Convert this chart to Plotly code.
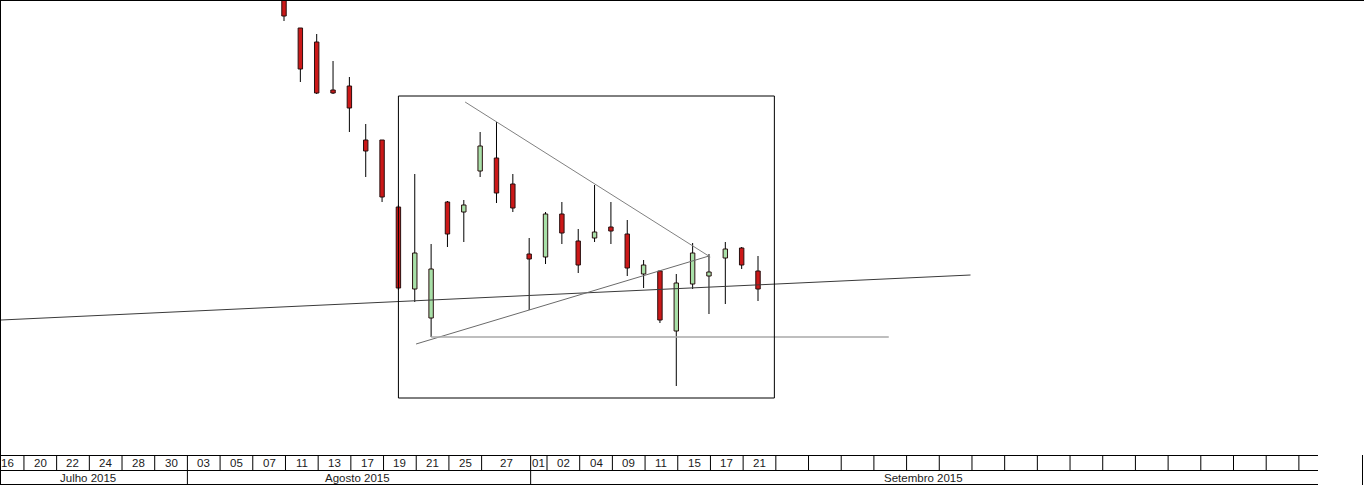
import plotly.graph_objects as go
import pandas as pd

# ---------------- data ----------------
holidays = ["2015-09-07"]
calendar = pd.bdate_range("2015-07-16", "2015-11-30", freq="C", holidays=holidays)

dates = ["2015-08-11", "2015-08-12", "2015-08-13", "2015-08-14", "2015-08-17",
         "2015-08-18", "2015-08-19", "2015-08-20", "2015-08-21", "2015-08-24",
         "2015-08-25", "2015-08-26", "2015-08-27", "2015-08-28", "2015-08-31",
         "2015-09-01", "2015-09-02", "2015-09-03", "2015-09-04", "2015-09-08",
         "2015-09-09", "2015-09-10", "2015-09-11", "2015-09-14", "2015-09-15",
         "2015-09-16", "2015-09-17", "2015-09-18", "2015-09-21", "2015-09-22"]
open_ = [15.08, 14.72, 14.58, 14.10, 14.14, 13.60, 13.60, 12.93, 12.11, 11.82,
         12.98, 12.88, 13.29, 13.42, 13.16, 12.46, 12.43, 12.86, 12.59, 12.62,
         12.73, 12.66, 12.26, 12.29, 11.69, 12.16, 12.24, 12.42, 12.52, 12.29]
high = [15.15, 14.72, 14.66, 14.39, 14.23, 13.76, 13.60, 12.95, 13.26, 12.56,
        12.99, 13.00, 13.68, 13.78, 13.26, 12.62, 12.88, 12.98, 12.71, 13.15,
        12.98, 12.80, 12.40, 12.29, 12.26, 12.57, 12.46, 12.58, 12.53, 12.44]
low = [14.79, 14.18, 14.06, 14.06, 13.68, 13.23, 12.98, 12.10, 11.98, 11.63,
       12.53, 12.58, 13.23, 12.97, 12.88, 11.90, 12.36, 12.56, 12.27, 12.58,
       12.56, 12.24, 12.12, 11.77, 11.14, 12.11, 11.86, 11.96, 12.31, 11.99]
close = [14.84, 14.31, 14.07, 14.07, 13.92, 13.49, 13.03, 12.12, 12.47, 12.31,
         12.66, 12.95, 13.54, 13.07, 12.92, 12.41, 12.86, 12.67, 12.35, 12.68,
         12.69, 12.32, 12.35, 11.80, 12.17, 12.47, 12.28, 12.51, 12.35, 12.11]

tick_dates = ["2015-07-16", "2015-07-20", "2015-07-22", "2015-07-24", "2015-07-28",
              "2015-07-30", "2015-08-03", "2015-08-05", "2015-08-07", "2015-08-11",
              "2015-08-13", "2015-08-17", "2015-08-19", "2015-08-21", "2015-08-25",
              "2015-08-27", "2015-09-01", "2015-09-02", "2015-09-04", "2015-09-09",
              "2015-09-11", "2015-09-15", "2015-09-17", "2015-09-21"]
tick_labels = ["16", "20", "22", "24", "28", "30", "03", "05", "07", "11", "13", "17",
               "19", "21", "25", "27", "01", "02", "04", "09", "11", "15", "17", "21"]

month_starts = ["2015-07-16", "2015-08-03", "2015-09-01"]
month_labels = ["Julho 2015", "Agosto 2015", "Setembro 2015"]

# drawings: (date, price) endpoints
trend_long_d = ["2015-07-16", "2015-10-09"]
trend_long_p = [11.80, 12.25]
trend_long_off = [0.686, 0.0]      # fractional day offsets
trend_down_d = ["2015-08-26", "2015-09-17"]
trend_down_p = [13.98, 12.43]
trend_up_d = ["2015-08-21", "2015-09-17"]
trend_up_p = [11.56, 12.44]
support_d = ["2015-08-24", "2015-10-02"]
support_p = [11.63, 11.63]
box_d = ["2015-08-20", "2015-09-23"]
box_p = [11.02, 14.04]

# ---------------- helpers ----------------
def idx(d):
    return calendar.get_loc(pd.Timestamp(d))

X_RANGE = [0.686, 81.26]
Y_RANGE = [10.45, 14.99]
PLOT_TOP, PLOT_BOT = 1, 455
H_PLOT = PLOT_BOT - PLOT_TOP
L_M, W_PLOT = 1, 1317


def py(pix):
    return (PLOT_BOT - pix) / H_PLOT


def px(pix):
    return (pix - L_M) / W_PLOT


x = [idx(d) for d in dates]

RED = "#cc1818"
GREEN = "#a8e0a8"
OUT = "#2a1010"
FONT = "Liberation Sans, Arial, sans-serif"

fig = go.Figure()

# wicks (split so they do not cross bodies)
wx, wy = [], []
for xi, o, h, l, c in zip(x, open_, high, low, close):
    top_b, bot_b = max(o, c), min(o, c)
    if h > top_b:
        wx += [xi, xi, None]
        wy += [h, top_b, None]
    if l < bot_b:
        wx += [xi, xi, None]
        wy += [bot_b, l, None]
fig.add_trace(go.Scatter(x=wx, y=wy, mode="lines",
                         line=dict(color="#000000", width=1),
                         hoverinfo="skip", showlegend=False))

# bodies
colors = [GREEN if c >= o else RED for o, c in zip(open_, close)]
heights = [max(abs(c - o), 0.03) for o, c in zip(open_, close)]
bases = [min(o, c) if abs(c - o) >= 0.03 else (o + c) / 2 - 0.015 for o, c in zip(open_, close)]
fig.add_trace(go.Bar(x=x, y=heights, base=bases, width=0.27,
                     marker=dict(color=colors, line=dict(color=OUT, width=1)),
                     hoverinfo="skip", showlegend=False))

# trend lines
fig.add_trace(go.Scatter(
    x=[idx(trend_long_d[0]) + trend_long_off[0], idx(trend_long_d[1])],
    y=trend_long_p, mode="lines", line=dict(color="#3a3a3a", width=1),
    hoverinfo="skip", showlegend=False))
fig.add_trace(go.Scatter(x=[idx(d) + 0.08 for d in trend_down_d], y=trend_down_p, mode="lines",
                         line=dict(color="#808080", width=1), hoverinfo="skip", showlegend=False))
fig.add_trace(go.Scatter(x=[idx(trend_up_d[0]) + 0.08, idx(trend_up_d[1])], y=trend_up_p, mode="lines",
                         line=dict(color="#6a6a6a", width=1), hoverinfo="skip", showlegend=False))
fig.add_trace(go.Scatter(x=[idx(d) for d in support_d], y=support_p, mode="lines",
                         line=dict(color="#a8a8a8", width=1.3), hoverinfo="skip", showlegend=False))

shapes = []
# box
shapes.append(dict(type="rect", xref="x", yref="y",
                   x0=idx(box_d[0]), x1=idx(box_d[1]), y0=box_p[0], y1=box_p[1],
                   line=dict(color="#000000", width=1), layer="above"))

BLK = dict(color="#000000", width=1)
# frame
shapes.append(dict(type="line", xref="paper", yref="paper", x0=px(0), x1=px(1364),
                   y0=py(0.5), y1=py(0.5), line=BLK))
shapes.append(dict(type="line", xref="paper", yref="paper", x0=px(0.5), x1=px(0.5),
                   y0=py(0), y1=py(485), line=BLK))
# axis rows
for yy in (455.5, 470.5, 484.5):
    shapes.append(dict(type="line", xref="paper", yref="paper", x0=px(0), x1=px(1318),
                       y0=py(yy), y1=py(yy), line=BLK))
shapes.append(dict(type="line", xref="paper", yref="paper", x0=px(1362.5), x1=px(1362.5),
                   y0=py(455), y1=py(485), line=BLK))

tick_idx = [idx(d) for d in tick_dates]
last = tick_idx[-1]
future = list(range(last + 2, int(X_RANGE[1]) + 1, 2))
for ti in tick_idx[1:] + future:
    shapes.append(dict(type="line", xref="x", yref="paper", x0=ti + 0.09, x1=ti + 0.09,
                       y0=py(455.5), y1=py(470.5), line=BLK))

month_idx = [idx(d) for d in month_starts]
for mi in month_idx[1:]:
    shapes.append(dict(type="line", xref="x", yref="paper", x0=mi + 0.09, x1=mi + 0.09,
                       y0=py(470.5), y1=py(484.5), line=BLK))

annotations = []
ends = tick_idx[1:] + [last + 2]
for lab, a, b in zip(tick_labels, tick_idx, ends):
    annotations.append(dict(x=(a + b) / 2 + 0.09, y=py(463), xref="x", yref="paper",
                            text=lab, showarrow=False, xanchor="center", yanchor="middle",
                            font=dict(family=FONT, size=11.5, color="#1a1a1a")))
m_ends = month_idx[1:] + [X_RANGE[1]]
for lab, a, b in zip(month_labels, month_idx, m_ends):
    annotations.append(dict(x=(a + b) / 2, y=py(477.5), xref="x", yref="paper",
                            text=lab, showarrow=False, xanchor="center", yanchor="middle",
                            font=dict(family=FONT, size=11.5, color="#1a1a1a")))

fig.update_layout(
    width=1364, height=485, autosize=False,
    margin=dict(l=L_M, r=1364 - L_M - W_PLOT, t=PLOT_TOP, b=485 - PLOT_BOT, pad=0),
    paper_bgcolor="white", plot_bgcolor="white",
    xaxis=dict(range=X_RANGE, visible=False, fixedrange=True),
    yaxis=dict(range=Y_RANGE, visible=False, fixedrange=True),
    shapes=shapes, annotations=annotations, showlegend=False,
    bargap=0,
)

fig.write_html("out.html", config={"displayModeBar": False, "staticPlot": True},
               post_script="document.body.style.margin='0px';document.body.style.padding='0px';document.body.style.overflow='hidden';")
